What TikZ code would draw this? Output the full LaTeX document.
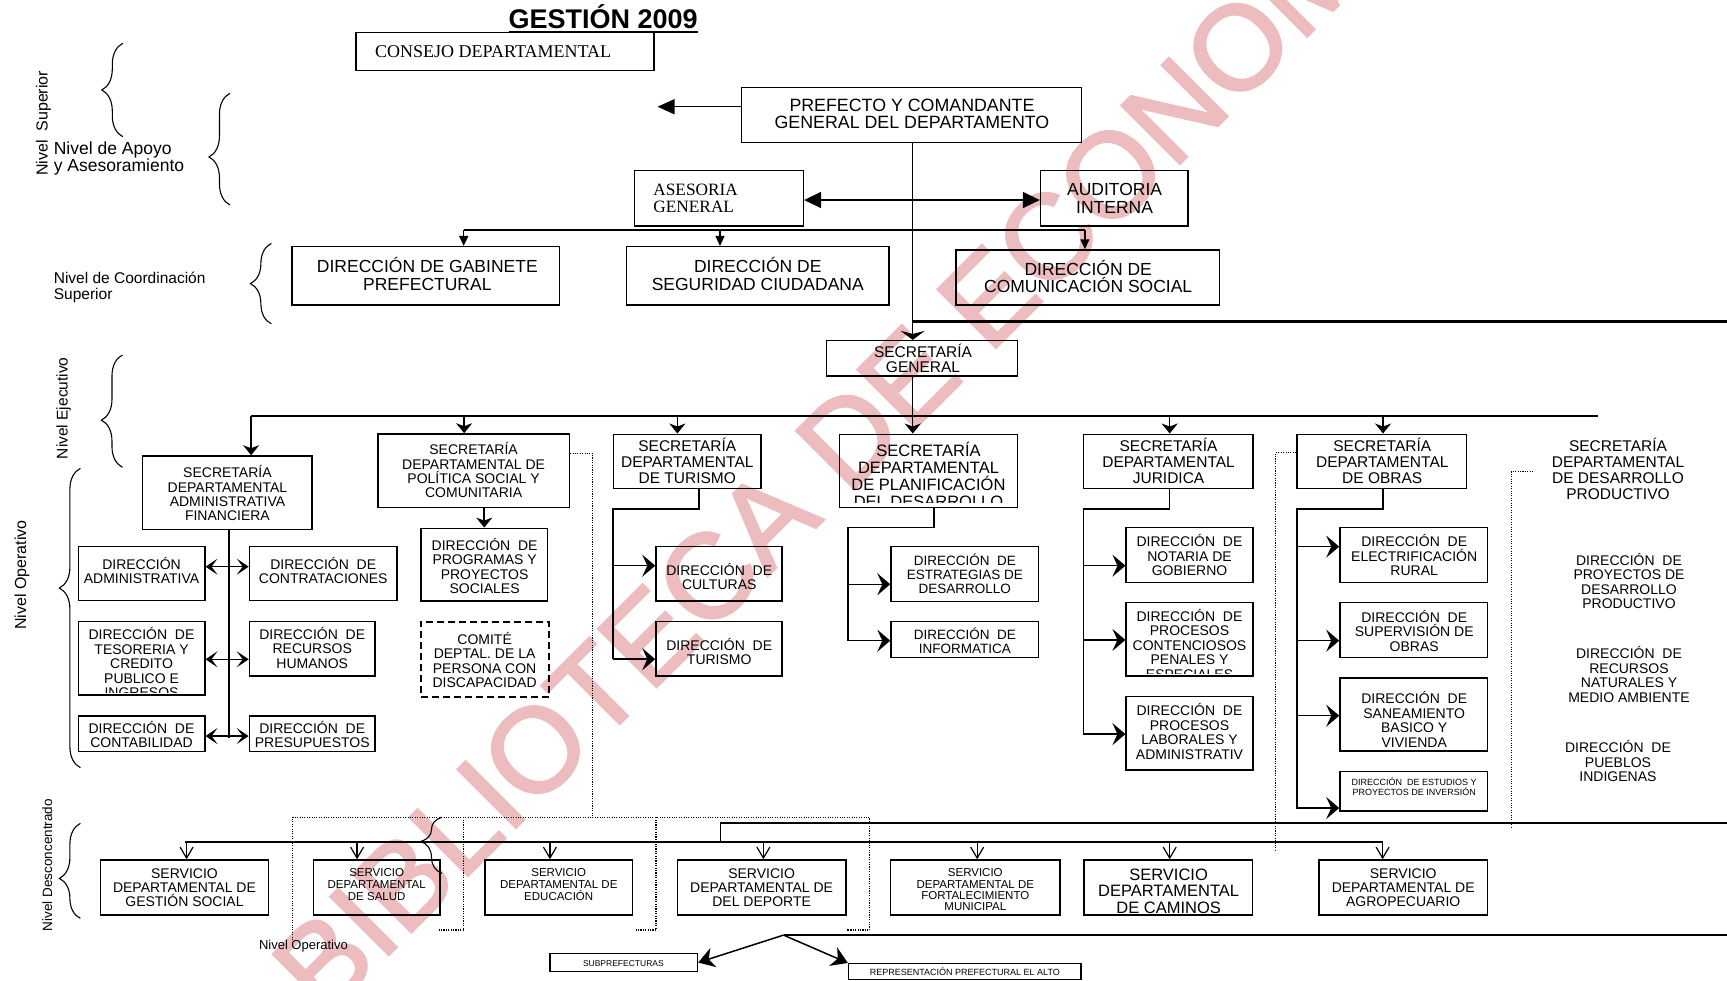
\documentclass[tikz,border=0pt]{standalone}
\usepackage{fontspec}
\setmainfont{Liberation Sans}
\newfontfamily\timesfont{Liberation Serif}
\newfontfamily\stampfont{Liberation Sans}[FakeBold=2]
\usetikzlibrary{arrows.meta,fit,decorations.pathreplacing}
\definecolor{stamp}{RGB}{236,188,190}
\newcommand\fz[2]{\fontsize{#1}{#2}\selectfont}
\newcommand\clipgap{3pt}
% framed unit: name, corners, font, text centre, text
\newcommand\ubox[9]{%
  \node[box,fit={(#2,#3)(#4,#5)}] (#1) {};
  \node[txt,font=#6] (#1-t) at (#7,#8) {#9};}
% framed unit whose text is cut off by its frame
\newcommand\cbox[9]{%
  \node[box,fit={(#2,#3)(#4,#5)}] (#1) {};
  \begin{scope}
    \clip ([yshift=\clipgap]#1.south west) rectangle (#1.north east);
    \node[txt,font=#6] (#1-t) at (#7,#8) {#9};
  \end{scope}}
\begin{document}
\begin{tikzpicture}[x=1.1014pt,y=-1.1014pt,
  box/.style={draw,line width=1.5pt,inner sep=0pt},
  dbox/.style={draw,line width=1.8pt,dash pattern=on 7pt off 4pt,inner sep=0pt},
  txt/.style={align=center,inner sep=0pt},
  lbl/.style={inner sep=0pt},
  conn/.style={line width=1.5pt},
  bus/.style={line width=1.8pt},
  heavy/.style={line width=2.5pt},
  dots/.style={line width=1.1pt,dash pattern=on 1.1pt off 1.3pt},
  brc/.style={line width=1.1pt,decorate,decoration={brace,amplitude=21pt,aspect=#1}},
  bigtip/.style={-{Triangle[length=17pt,width=15pt]}},
  dbltip/.style={{Triangle[length=17pt,width=16pt]}-{Triangle[length=17pt,width=16pt]}},
  smalltip/.style={-{Triangle[length=10pt,width=9pt]}},
  sgtip/.style={-{Stealth[length=9pt,width=24pt,inset=3pt]}},
  sectip/.style={-{Stealth[length=10pt,width=16pt,inset=3pt]}},
  lrtip/.style={{Stealth[length=12pt,width=16pt,inset=6pt]}-{Stealth[length=12pt,width=16pt,inset=6pt]}},
  rtip/.style={-{Stealth[length=13pt,width=22pt,inset=5pt]}},
  vtip/.style={-{Straight Barb[length=11pt,width=13pt]}},
  diagtip/.style={-{Stealth[length=16pt,width=20pt,inset=5pt]}}
]
\useasboundingbox (0,0) rectangle (1568,890);

% library stamp across the sheet
\node[rotate=45,text=stamp,font=\stampfont\fz{120}{120},anchor=base,inner sep=0pt] (stamp) at (806,414) {BIBLIOTECA DE ECONOMÍA};

% title
\node[lbl,anchor=base,font=\bfseries\fz{27}{27}] (title) at (547.7,25.7) {GESTIÓN 2009};
\draw[line width=2pt] ([yshift=-3.5pt]title.base west) -- ([yshift=-3.5pt]title.base east);

% level labels and braces
\node[lbl,rotate=90,font=\fz{16}{16}] (lvsup) at (39.5,112) {Nivel~~Superior};
\draw[brc=0.5] (111.5,124.1) -- (111.5,39.3);
\node[lbl,anchor=west,align=left,font=\fz{17.5}{17.6}] (lvapo) at (48.7,144) {Nivel de Apoyo\\y Asesoramiento};
\draw[brc=0.43] (208.8,186.1) -- (208.8,84.7);
\node[lbl,anchor=west,align=left,font=\fz{15.5}{15.6}] (lvcoo) at (48.7,261) {Nivel de Coordinación\\Superior};
\draw[brc=0.5] (246.4,294) -- (246.4,221);
\node[lbl,rotate=90,font=\fz{15.5}{16}] (lveje) at (57.8,370.7) {Nivel Ejecutivo};
\draw[brc=0.42] (111.2,424.3) -- (111.2,322.3);
\node[lbl,rotate=90,font=\fz{16}{16}] (lvope) at (20,522) {Nivel Operativo};
\draw[brc=0.6] (73,697) -- (73,425.2);
\node[lbl,rotate=90,font=\fz{13.5}{14}] (lvdes) at (43,785.4) {Nivel Desconcentrado};
\draw[brc=0.42] (73,833.8) -- (73,747.5);

% superior level
\node[box,fit={(323.4,29.4)(593.8,63.9)}] (consejo) {};
\node[lbl,anchor=west,font=\timesfont\fz{18}{18}] (consejo-t) at (340.5,46.5) {CONSEJO DEPARTAMENTAL};
\ubox{prefecto}{673.3}{79.6}{982}{129.2}{\fz{17.8}{17.6}}{828}{103.5}{PREFECTO Y COMANDANTE\\GENERAL DEL DEPARTAMENTO}
\node[box,fit={(576,155)(729.4,205)}] (asesoria) {};
\node[lbl,anchor=west,align=left,font=\timesfont\fz{17.3}{17.6}] (asesoria-t) at (593,180) {ASESORIA\\GENERAL};
\ubox{auditoria}{944.8}{155}{1078.6}{205}{\fz{17.5}{17.6}}{1012}{180}{AUDITORIA\\INTERNA}
\ubox{gabinete}{265}{224}{508}{277}{\fz{17.5}{17.6}}{388}{249}{DIRECCIÓN DE GABINETE\\PREFECTURAL}
\ubox{seguridad}{569}{224}{807}{277}{\fz{17.5}{17.6}}{688}{249}{DIRECCIÓN DE\\SEGURIDAD CIUDADANA}
\ubox{comunic}{867.8}{227}{1107.3}{277}{\fz{17.5}{17.6}}{988}{251}{DIRECCIÓN DE\\COMUNICACIÓN SOCIAL}
\ubox{sg}{750.6}{309.3}{924}{341.4}{\fz{15.5}{15.4}}{838}{325.5}{SECRETARÍA\\GENERAL}

\coordinate (pl) at (597,96.9);
\draw[conn,bigtip] (prefecto.west |- pl) -- (pl);
\draw[conn,dbltip] (asesoria.east |- 0,181.6) -- (auditoria.west |- 0,181.6);
\coordinate (busA) at (421,208.8);
\coordinate (busM) at (653.7,208.8);
\coordinate (busB) at (985,208.8);
\draw[conn] (busA) -- (busB);
\draw[conn,smalltip] (busA) -- (busA |- gabinete.north);
\draw[conn,smalltip] (busM) -- (busM |- seguridad.north);
\draw[conn,smalltip] (busB) -- (busB |- comunic.north);
\coordinate (spine) at (828.7,129.2);
\draw[conn,sgtip] (spine) -- (spine |- sg.north);
\coordinate (r292) at (1570,292);
\draw[heavy] (spine |- r292) -- (r292);

% executive level
\ubox{sdaf}{129.6}{414}{283.2}{480.6}{\fz{14}{14.3}}{206.5}{448}{SECRETARÍA\\DEPARTAMENTAL\\ADMINISTRATIVA\\FINANCIERA}
\ubox{politica}{343}{394}{517}{460.6}{\fz{14}{14.3}}{430}{427}{SECRETARÍA\\DEPARTAMENTAL DE\\POLÍTICA SOCIAL Y\\COMUNITARIA}
\ubox{turismoS}{556.9}{394.3}{690.9}{443.7}{\fz{15.5}{15.9}}{624}{418.5}{SECRETARÍA\\DEPARTAMENTAL\\DE TURISMO}
\renewcommand\clipgap{6pt}
\cbox{planif}{762}{394.3}{923.7}{460.6}{\fz{16.5}{17}}{843}{431.5}{SECRETARÍA\\DEPARTAMENTAL\\DE PLANIFICACIÓN\\DEL DESARROLLO}
\renewcommand\clipgap{3pt}
\ubox{juridica}{983.7}{394.3}{1137.4}{443.4}{\fz{15.5}{15.9}}{1061}{418.5}{SECRETARÍA\\DEPARTAMENTAL\\JURIDICA}
\ubox{obras}{1177.6}{394.3}{1331.3}{443.4}{\fz{15.5}{15.9}}{1255}{418.5}{SECRETARÍA\\DEPARTAMENTAL\\DE OBRAS}
\node[txt,font=\fz{15.5}{15.9}] (desprod) at (1469,425.5) {SECRETARÍA\\DEPARTAMENTAL\\DE DESARROLLO\\PRODUCTIVO};

\draw[conn,sectip] (spine |- sg.south) -- (spine |- planif.north);
\coordinate (secL) at (228,377.7);
\coordinate (secR) at (1451,377.7);
\coordinate (aPol) at (421.4,377.7);
\coordinate (aTur) at (615,377.7);
\coordinate (aJur) at (1062,377.7);
\coordinate (aObr) at (1255.7,377.7);
\draw[bus] (secL) -- (secR);
\draw[conn,sectip] (secL) -- (secL |- sdaf.north);
\draw[conn,sectip] (aPol) -- (aPol |- politica.north);
\draw[conn,sectip] (aTur) -- (aTur |- turismoS.north);
\draw[conn,sectip] (aJur) -- (aJur |- juridica.north);
\draw[conn,sectip] (aObr) -- (aObr |- obras.north);

% operative level: administration and finance
\ubox{admin}{71.2}{496.3}{185.9}{545.4}{\fz{14}{14.5}}{128.5}{518}{DIRECCIÓN\\ADMINISTRATIVA}
\ubox{contrat}{226.5}{496.3}{360.3}{545.4}{\fz{14}{14.5}}{293.5}{518}{DIRECCIÓN~~DE\\CONTRATACIONES}
\cbox{tesoreria}{71.2}{564.4}{185.9}{631}{\fz{14}{14.5}}{128.5}{601.5}{DIRECCIÓN~~DE\\TESORERIA Y\\CREDITO\\PUBLICO E\\INGRESOS}
\ubox{rrhh}{226.5}{564.4}{340.4}{613.8}{\fz{14}{14.5}}{283.5}{588}{DIRECCIÓN~~DE\\RECURSOS\\HUMANOS}
\ubox{contab}{71.2}{650}{185.9}{682.5}{\fz{14}{14.5}}{128.5}{667}{DIRECCIÓN~~DE\\CONTABILIDAD}
\ubox{presup}{226.5}{650}{340.4}{682.5}{\fz{14}{14.5}}{283.5}{667}{DIRECCIÓN~~DE\\PRESUPUESTOS}
\coordinate (sdafV) at (207.8,670.4);
\draw[conn] (sdaf.south -| sdafV) -- (sdafV);
\draw[conn,lrtip] (admin.east |- 0,514.5) -- (contrat.west |- 0,514.5);
\draw[conn,lrtip] (tesoreria.east |- 0,598.6) -- (rrhh.west |- 0,598.6);
\draw[conn,lrtip] (contab.east |- 0,668.3) -- (presup.west |- 0,668.3);

% social policy
\ubox{programas}{382.4}{479.7}{496.9}{545.7}{\fz{14}{14.5}}{440}{514}{DIRECCIÓN~~DE\\PROGRAMAS Y\\PROYECTOS\\SOCIALES}
\node[dbox,fit={(382.3,564.4)(498.6,632.5)}] (comite) {};
\node[txt,font=\fz{14}{14.5}] (comite-t) at (440,599) {COMITÉ\\DEPTAL. DE LA\\PERSONA CON\\DISCAPACIDAD};
\draw[conn,sectip] (programas.north |- politica.south) -- (programas.north);

% tourism
\ubox{culturas}{595.6}{496}{710}{545.7}{\fz{14}{14.5}}{653}{523.5}{DIRECCIÓN~~DE\\CULTURAS}
\ubox{dturismo}{595.6}{564.4}{710}{613.7}{\fz{14}{14.5}}{653}{591.5}{DIRECCIÓN~~DE\\TURISMO}
\coordinate (turV) at (556.7,462);
\draw[conn] (turismoS.south -| 634.6,0) |- (turV) -- (556.7,598.5);
\draw[conn,rtip] (556.7,513.6) -- (culturas.west |- 0,513.6);
\draw[conn,rtip] (556.7,598.5) -- (dturismo.west |- 0,598.5);

% planning
\ubox{estrategias}{809}{496}{943}{546}{\fz{13.5}{14.3}}{876}{521}{DIRECCIÓN~~DE\\ESTRATEGIAS DE\\DESARROLLO}
\ubox{informatica}{809}{564.4}{943}{596.8}{\fz{13.5}{14.3}}{876}{582}{DIRECCIÓN~~DE\\INFORMATICA}
\coordinate (plaV) at (770,479);
\draw[conn] (planif.south -| 848,0) |- (plaV) -- (770,581.7);
\draw[conn,rtip] (770,530.5) -- (estrategias.west |- 0,530.5);
\draw[conn,rtip] (770,581.7) -- (informatica.west |- 0,581.7);

% legal
\ubox{notaria}{1022.5}{479}{1137.4}{528.7}{\fz{14}{14.5}}{1080}{504}{DIRECCIÓN~~DE\\NOTARIA DE\\GOBIERNO}
\cbox{contenciosos}{1022.5}{547}{1137.4}{613.7}{\fz{14}{14.5}}{1080}{585}{DIRECCIÓN~~DE\\PROCESOS\\CONTENCIOSOS\\PENALES Y\\ESPECIALES}
\ubox{laborales}{1022.5}{632.5}{1137.4}{699}{\fz{14}{14.5}}{1080}{664}{DIRECCIÓN~~DE\\PROCESOS\\LABORALES Y\\ADMINISTRATIV}
\coordinate (jurV) at (983.6,462);
\draw[conn] (juridica.south -| 1062,0) |- (jurV) -- (983.6,666.5);
\draw[conn,rtip] (983.6,513.6) -- (notaria.west |- 0,513.6);
\draw[conn,rtip] (983.6,581) -- (contenciosos.west |- 0,581);
\draw[conn,rtip] (983.6,666.5) -- (laborales.west |- 0,666.5);

% public works
\ubox{electrif}{1216.6}{479}{1350.6}{528.7}{\fz{14}{14.5}}{1284}{504}{DIRECCIÓN~~DE\\ELECTRIFICACIÓN\\RURAL}
\ubox{supervision}{1216.6}{547}{1350.6}{597}{\fz{14}{14.5}}{1284}{572.5}{DIRECCIÓN~~DE\\SUPERVISIÓN DE\\OBRAS}
\ubox{saneamiento}{1216.6}{615.6}{1350.6}{681.9}{\fz{14}{14.5}}{1284}{653}{DIRECCIÓN~~DE\\SANEAMIENTO\\BASICO Y\\VIVIENDA}
\ubox{estudios}{1216.6}{700.6}{1350.6}{736.3}{\fz{9}{9.9}}{1284}{714}{DIRECCIÓN~~DE ESTUDIOS Y\\PROYECTOS DE INVERSIÓN}
\coordinate (obrV) at (1177.6,462);
\draw[conn] (obras.south -| 1255.7,0) |- (obrV) -- (1177.6,734.7);
\draw[conn,rtip] (1177.6,496.3) -- (electrif.west |- 0,496.3);
\draw[conn,rtip] (1177.6,581.7) -- (supervision.west |- 0,581.7);
\draw[conn,rtip] (1177.6,649.8) -- (saneamiento.west |- 0,649.8);
\draw[conn,rtip] (1177.6,733.6) -- (estudios.west |- 0,733.6);

% productive development (unframed)
\node[txt,font=\fz{14}{14.5}] (proydes) at (1479,527.5) {DIRECCIÓN~~DE\\PROYECTOS DE\\DESARROLLO\\PRODUCTIVO};
\node[txt,font=\fz{14}{14.5}] (recnat) at (1479,612.5) {DIRECCIÓN~~DE\\RECURSOS\\NATURALES Y\\MEDIO AMBIENTE};
\node[txt,font=\fz{14}{14.5}] (pueblos) at (1469,691) {DIRECCIÓN~~DE\\PUEBLOS\\INDIGENAS};

% dotted links
\draw[dots] (politica.east |- 0,411.6) -| (537.9,742);
\draw[dots] (265.8,853.5) |- (789.5,742) -- (789.5,844.4) -- (768.6,844.4);
\draw[dots] (421.1,742) |- (399,844.4);
\draw[dots] (595.6,742) |- (576,844.4);
\draw[dots] (obras.west |- 0,411) -| (1158.2,772);
\draw[dots] (1392,428.3) -| (1372,752);

% decentralised services
\ubox{gestion}{91.2}{780.8}{243.9}{830.8}{\fz{14}{14.3}}{167.5}{806}{SERVICIO\\DEPARTAMENTAL DE\\GESTIÓN SOCIAL}
\ubox{salud}{284.5}{780.8}{399.7}{830.8}{\fz{11.5}{11.6}}{342}{803}{SERVICIO\\DEPARTAMENTAL\\DE SALUD}
\ubox{educacion}{440.4}{780.8}{574.3}{830.8}{\fz{11.5}{12}}{507.3}{803.5}{SERVICIO\\DEPARTAMENTAL DE\\EDUCACIÓN}
\ubox{deporte}{615}{780.8}{768.1}{830.8}{\fz{14}{14.3}}{691.5}{806}{SERVICIO\\DEPARTAMENTAL DE\\DEL DEPORTE}
\ubox{fortal}{808.4}{780.8}{962.6}{830.8}{\fz{11.5}{11.3}}{885.5}{808}{SERVICIO\\DEPARTAMENTAL DE\\FORTALECIMIENTO\\MUNICIPAL}
\renewcommand\clipgap{1pt}
\cbox{caminos}{984.2}{780.8}{1137.3}{830.8}{\fz{16.5}{16.5}}{1061}{809}{SERVICIO\\DEPARTAMENTAL\\DE CAMINOS}
\renewcommand\clipgap{3pt}
\ubox{agro}{1197.6}{780.8}{1350.7}{830.8}{\fz{14}{14.3}}{1274}{806}{SERVICIO\\DEPARTAMENTAL DE\\AGROPECUARIO}

\coordinate (hubA) at (654,747);
\coordinate (hubR) at (1570,747);
\draw[heavy] (hubA) -- (hubR);
\coordinate (svL) at (167.8,764.2);
\coordinate (svR) at (1255.3,764.2);
\draw[conn] (hubA) -- (hubA |- svL);
\draw[bus] (svL) -- (svR);
\foreach \n/\x in {gestion/169.4,salud/324.2,educacion/499.3,deporte/693.1,fortal/887.2,caminos/1062,agro/1255.3}
  \draw[line width=1.2pt,vtip] (\x,764.2) -- (\x,764.2 |- \n.north);
\draw[brc=0.57] (401.3,793) -- (401.3,742);
\node[lbl,font=\fz{13}{13}] (lvope2) at (275.5,859) {Nivel Operativo};

% sub-prefectures
\ubox{subpref}{499.3}{865.6}{633.2}{882.2}{\fz{8.5}{9}}{566}{874.5}{SUBPREFECTURAS}
\node[box,fit={(770.5,875)(981.6,889.5)}] (repres) {};
\node[txt,font=\fz{9}{9}] (repres-t) at (876,882.5) {REPRESENTACIÓN PREFECTURAL EL ALTO};
\coordinate (hubB) at (711.4,849);
\coordinate (hubBR) at (1570,849);
\draw[heavy] (hubB) -- (hubBR);
\draw[conn,diagtip] (hubB) -- (subpref.east);
\draw[conn,diagtip] (hubB) -- (repres.north west);
\end{tikzpicture}
\end{document}
